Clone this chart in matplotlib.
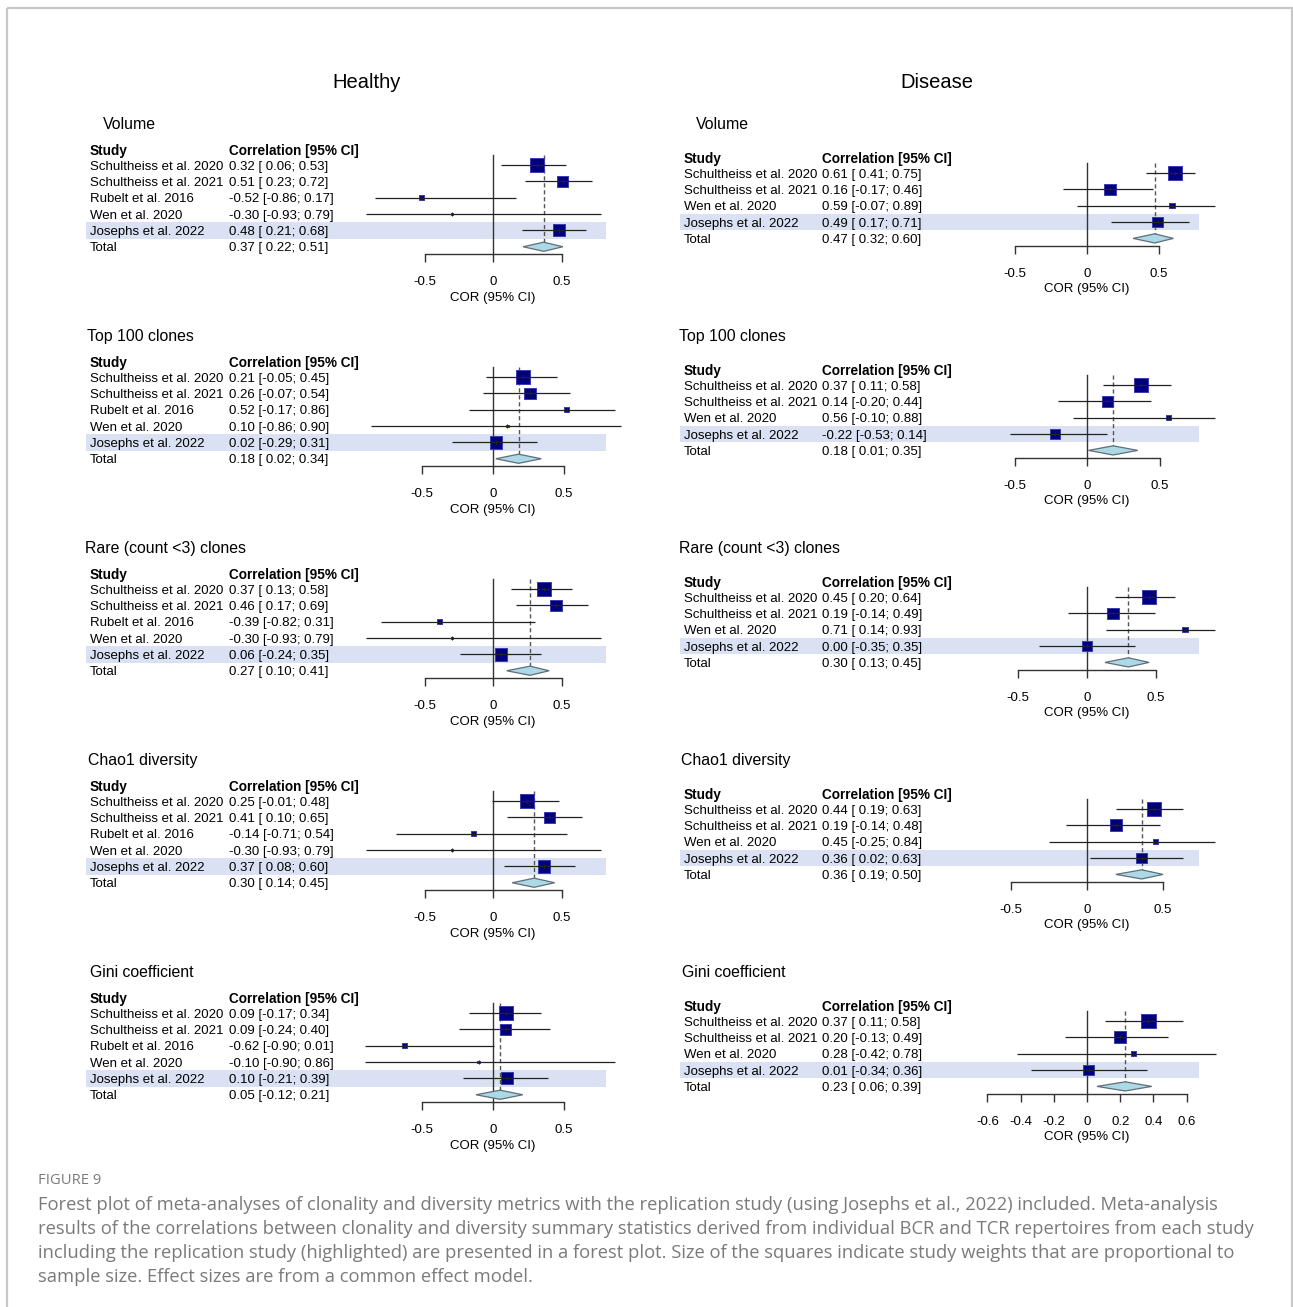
import numpy as np
import matplotlib
matplotlib.use("Agg")
import matplotlib.pyplot as plt
from matplotlib.patches import Rectangle, Polygon

plt.rcParams["font.family"] = ["Liberation Sans", "DejaVu Sans"]

# ---------------------------------------------------------------- data
metrics = ["Volume", "Top 100 clones", "Rare (count <3) clones",
           "Chao1 diversity", "Gini coefficient"]

healthy_studies = ["Schultheiss et al. 2020", "Schultheiss et al. 2021",
                   "Rubelt et al. 2016", "Wen et al. 2020", "Josephs et al. 2022"]
disease_studies = ["Schultheiss et al. 2020", "Schultheiss et al. 2021",
                   "Wen et al. 2020", "Josephs et al. 2022"]

# correlation estimates, lower and upper 95% CI per metric (rows) and study (columns)
healthy_cor = [[0.32, 0.51, -0.52, -0.30, 0.48],
               [0.21, 0.26, 0.52, 0.10, 0.02],
               [0.37, 0.46, -0.39, -0.30, 0.06],
               [0.25, 0.41, -0.14, -0.30, 0.37],
               [0.09, 0.09, -0.62, -0.10, 0.10]]
healthy_lo = [[0.06, 0.23, -0.86, -0.93, 0.21],
              [-0.05, -0.07, -0.17, -0.86, -0.29],
              [0.13, 0.17, -0.82, -0.93, -0.24],
              [-0.01, 0.10, -0.71, -0.93, 0.08],
              [-0.17, -0.24, -0.90, -0.90, -0.21]]
healthy_hi = [[0.53, 0.72, 0.17, 0.79, 0.68],
              [0.45, 0.54, 0.86, 0.90, 0.31],
              [0.58, 0.69, 0.31, 0.79, 0.35],
              [0.48, 0.65, 0.54, 0.79, 0.60],
              [0.34, 0.40, 0.01, 0.86, 0.39]]
healthy_total = [(0.37, 0.22, 0.51),
                 (0.18, 0.02, 0.34),
                 (0.27, 0.10, 0.41),
                 (0.30, 0.14, 0.45),
                 (0.05, -0.12, 0.21)]

disease_cor = [[0.61, 0.16, 0.59, 0.49],
               [0.37, 0.14, 0.56, -0.22],
               [0.45, 0.19, 0.71, 0.00],
               [0.44, 0.19, 0.45, 0.36],
               [0.37, 0.20, 0.28, 0.01]]
disease_lo = [[0.41, -0.17, -0.07, 0.17],
              [0.11, -0.20, -0.10, -0.53],
              [0.20, -0.14, 0.14, -0.35],
              [0.19, -0.14, -0.25, 0.02],
              [0.11, -0.13, -0.42, -0.34]]
disease_hi = [[0.75, 0.46, 0.89, 0.71],
              [0.58, 0.44, 0.88, 0.14],
              [0.64, 0.49, 0.93, 0.35],
              [0.63, 0.48, 0.84, 0.63],
              [0.58, 0.49, 0.78, 0.36]]
disease_total = [(0.47, 0.32, 0.60),
                 (0.18, 0.01, 0.35),
                 (0.30, 0.13, 0.45),
                 (0.36, 0.19, 0.50),
                 (0.23, 0.06, 0.39)]

default_ticks = [-0.5, 0, 0.5]
disease_gini_ticks = [-0.6, -0.4, -0.2, 0, 0.2, 0.4, 0.6]

caption_head = "FIGURE 9"
caption_lines = [
    "Forest plot of meta-analyses of clonality and diversity metrics with the replication study (using Josephs et al., 2022) included. Meta-analysis",
    "results of the correlations between clonality and diversity summary statistics derived from individual BCR and TCR repertoires from each study",
    "including the replication study (highlighted) are presented in a forest plot. Size of the squares indicate study weights that are proportional to",
    "sample size. Effect sizes are from a common effect model.",
]

# ---------------------------------------------------------------- layout
W, H = 1293, 1307
fig = plt.figure(figsize=(W / 100, H / 100), dpi=100)
fig.patch.set_facecolor("white")

# light frame around the figure
frame_ax = fig.add_axes([0, 0, 1, 1])
frame_ax.set_xlim(0, W)
frame_ax.set_ylim(H, 0)
frame_ax.axis("off")
frame_ax.add_patch(Rectangle((7, 8), 1285, 1320, fill=False,
                             edgecolor="#c8c8c8", linewidth=1.6))

TXT = 9.5
BOLD_TXT = 9.8
ROW = 16.35
TXT_SHIFT = 0.1      # nudge text to sit on the row centre
SQ_COL = "#00007f"
SQ_EDGE = "#3b3bb3"
BAND_COL = "#d9e1f2"
DIAM_COL = "#add8e6"
LINE_COL = "#222222"

panel_title_y = [123, 335, 547, 759, 971]

columns = {
    "healthy": dict(studies=healthy_studies, cor=healthy_cor, lo=healthy_lo,
                    hi=healthy_hi, total=healthy_total,
                    study_x=90, corr_x=229, x0=493, band=(86, 606),
                    hdr_off=26, row_off=42, box=(60, 640),
                    scale=[137, 142, 137, 137, 142],
                    title_x=[103, 87, 85, 88, 90]),
    "disease": dict(studies=disease_studies, cor=disease_cor, lo=disease_lo,
                    hi=disease_hi, total=disease_total,
                    study_x=684, corr_x=822, x0=1087, band=(680, 1199),
                    hdr_off=34, row_off=50, box=(660, 1240),
                    scale=[144, 145, 138, 152, 166],
                    title_x=[696, 679, 679, 681, 682]),
}


def fmt(est, lo, hi):
    return f"{est:.2f} [{lo:5.2f}; {hi:.2f}]"


def fisher_weight(lo, hi):
    # common-effect weight (n - 3) recovered from the Fisher-z CI width
    return (2 * 1.959964 / (np.arctanh(hi) - np.arctanh(lo))) ** 2


def draw_panel(cfg, m):
    ty = panel_title_y[m]
    first_y = ty + cfg["row_off"]
    hdr_y = ty + cfg["hdr_off"]
    x0, sc = cfg["x0"], cfg["scale"][m]
    left_px, right_px = cfg["box"]
    top_px, bot_px = ty - 18, ty + cfg["row_off"] + 150

    ax = fig.add_axes([left_px / W, 1 - bot_px / H,
                       (right_px - left_px) / W, (bot_px - top_px) / H])
    ax.set_xlim((left_px - x0) / sc, (right_px - x0) / sc)
    ax.set_ylim((bot_px - first_y) / ROW, (top_px - first_y) / ROW)
    ax.patch.set_visible(False)

    def dx(px):
        return (px - x0) / sc

    def ry(py):
        return (py - first_y) / ROW

    studies = cfg["studies"]
    cor = np.array(cfg["cor"][m])
    lo = np.array(cfg["lo"][m])
    hi = np.array(cfg["hi"][m])
    t_est, t_lo, t_hi = cfg["total"][m]
    n = len(studies)
    rows = np.arange(n)
    total_row = n
    axis_row = n + 0.47
    ts = TXT_SHIFT

    # highlighted replication study
    b0, b1 = cfg["band"]
    ax.add_patch(Rectangle((dx(b0), n - 1 - 0.5), dx(b1) - dx(b0), 1.0,
                           facecolor=BAND_COL, edgecolor="none", zorder=0))

    # titles and text columns
    ax.text(dx(cfg["title_x"][m]), ry(ty) + ts, metrics[m], fontsize=11.4,
            ha="left", va="center")
    ax.text(dx(cfg["study_x"]), ry(hdr_y) + ts, "Study", fontsize=BOLD_TXT,
            fontweight="bold", ha="left", va="center")
    ax.text(dx(cfg["corr_x"]), ry(hdr_y) + ts, "Correlation [95% CI]",
            fontsize=BOLD_TXT, fontweight="bold", ha="left", va="center")
    for i, name in enumerate(studies):
        ax.text(dx(cfg["study_x"]), i + ts, name, fontsize=TXT,
                ha="left", va="center")
        ax.text(dx(cfg["corr_x"]), i + ts, fmt(cor[i], lo[i], hi[i]),
                fontsize=TXT, ha="left", va="center")
    ax.text(dx(cfg["study_x"]), total_row + ts, "Total", fontsize=TXT,
            ha="left", va="center")
    ax.text(dx(cfg["corr_x"]), total_row + ts, fmt(t_est, t_lo, t_hi),
            fontsize=TXT, ha="left", va="center")

    # reference lines
    ax.plot([0, 0], [-0.62, axis_row], color="#333333", lw=1.0, zorder=1)
    ax.plot([t_est, t_est], [-0.62, total_row - 0.1], color="#555555", lw=1.0,
            dashes=(3, 2), zorder=1)

    # study squares sized by weight, CIs on top
    w = fisher_weight(lo, hi)
    side = 10.2 * np.sqrt(w / w.max())
    ax.scatter(cor, rows, s=side ** 2, marker="s", c=SQ_COL,
               edgecolors=SQ_EDGE, linewidths=0.7, zorder=3)
    ax.hlines(rows, lo, hi, color=LINE_COL, lw=0.9, zorder=4)
    ax.vlines(cor, rows - 0.13, rows + 0.13, color=LINE_COL, lw=0.7, zorder=4)

    # pooled diamond
    hh = 0.28
    ax.add_patch(Polygon([(t_lo, total_row), (t_est, total_row - hh),
                          (t_hi, total_row), (t_est, total_row + hh)],
                         closed=True, facecolor=DIAM_COL, edgecolor="#5f6f7a",
                         linewidth=0.9, zorder=5))

    # x axis below the plot
    ticks = disease_gini_ticks if (cfg is columns["disease"] and m == 4) else default_ticks
    for s in ("top", "left", "right"):
        ax.spines[s].set_visible(False)
    ax.spines["bottom"].set_position(("data", axis_row))
    ax.spines["bottom"].set_bounds(ticks[0], ticks[-1])
    ax.spines["bottom"].set_color("#333333")
    ax.spines["bottom"].set_linewidth(1.0)
    ax.set_xticks(ticks)
    ax.set_xticklabels([f"{t:g}" for t in ticks], fontsize=TXT)
    ax.tick_params(axis="x", direction="out", length=5.5, width=1.0,
                   color="#333333", pad=10)
    ax.set_yticks([])
    ax.text(0, total_row + 3.12, "COR (95% CI)", fontsize=TXT,
            ha="center", va="center")


for key in ("healthy", "disease"):
    for m in range(len(metrics)):
        draw_panel(columns[key], m)

# column headings
fig.text(367 / W, 1 - 83 / H, "Healthy", fontsize=14.5, ha="center", va="center")
fig.text(937 / W, 1 - 83 / H, "Disease", fontsize=14.5, ha="center", va="center")

# caption
cap_font = ["Open Sans", "DejaVu Sans"]
fig.text(38 / W, 1 - 1181 / H, caption_head, fontsize=10.6, color="#7a7a7a",
         family=cap_font, ha="left", va="center")
for i, line in enumerate(caption_lines):
    fig.text(38 / W, 1 - (1205 + 24 * i) / H, line, fontsize=13.25,
             color="#7a7a7a", family=cap_font, ha="left", va="center")

fig.savefig("out.png", dpi=100, facecolor="white")
